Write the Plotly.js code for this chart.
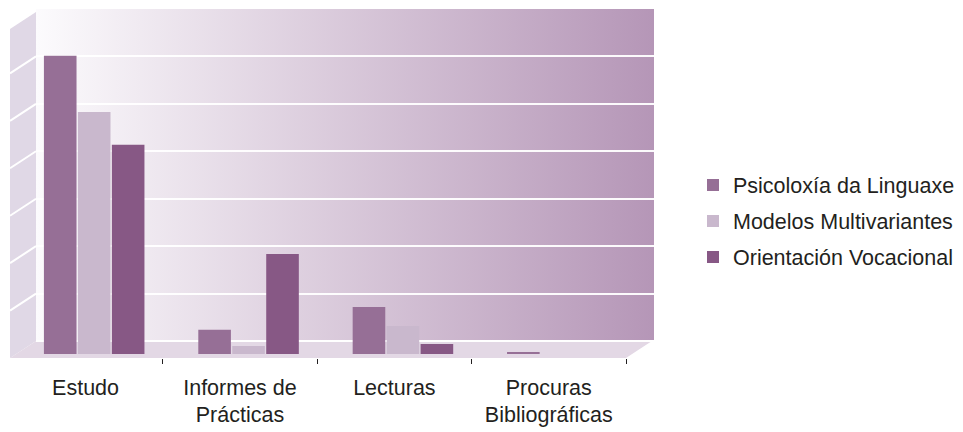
<!DOCTYPE html>
<html>
<head>
<meta charset="utf-8">
<script src="https://cdn.plot.ly/plotly-3.0.1.min.js"></script>
<style>html,body{margin:0;padding:0;background:#fff;}#chart{width:963px;height:432px;}</style>
</head>
<body>
<div id="chart"></div>
<script>
// ---- data ----
const categories = ['Estudo', 'Informes de<br>Prácticas', 'Lecturas', 'Procuras<br>Bibliográficas'];
const seriesNames = ['Psicoloxía da Linguaxe', 'Modelos Multivariantes', 'Orientación Vocacional'];
const psicoloxia = [62.9, 5.1, 9.9, 0.4];
const modelos = [51.0, 1.7, 5.9, 0];
const orientacion = [44.1, 21.1, 2.1, 0];
const seriesColors = ['#966f96', '#c9b8cd', '#875885'];
const gridValues = [0, 10, 20, 30, 40, 50, 60, 70];

// ---- geometry helpers (pixel -> paper) ----
const W = 963, H = 432;
const px = x => x / W;
const py = y => 1 - y / H;

// back wall (pixels)
const wallL = 36, wallR = 654, wallTop = 9, wallBot = 341;
// depth shift of front plane
const dX = -26, dY = 17;
const backY = v => wallBot - (v / 70) * (wallBot - wallTop);

const FONT = 'Liberation Sans, Arial, sans-serif';
const TXT = '#231f20';

const traces = [];
// back wall subplot (drawn first, so its grid sits under the bars)
traces.push({type: 'scatter', x: [], y: [], xaxis: 'x', yaxis: 'y', showlegend: false, hoverinfo: 'skip'});
// label axis carrier
traces.push({type: 'scatter', x: categories, y: [null, null, null, null], xaxis: 'x2', yaxis: 'y3',
  showlegend: false, hoverinfo: 'skip', mode: 'markers'});
const vals = [psicoloxia, modelos, orientacion];
vals.forEach((v, i) => traces.push({
  type: 'bar', x: categories, y: v, name: seriesNames[i],
  xaxis: 'x3', yaxis: 'y3',
  marker: {color: seriesColors[i], line: {width: 0}},
  legendgroup: 'g' + i, hoverinfo: 'x+y+name'
}));

// gradient image for back wall
const svg = '<svg xmlns="http://www.w3.org/2000/svg" width="618" height="332" preserveAspectRatio="none">' +
  '<defs><linearGradient id="g" x1="0" y1="0" x2="1" y2="0">' +
  '<stop offset="0" stop-color="#fcfbfd"/><stop offset="1" stop-color="#b596b7"/></linearGradient></defs>' +
  '<rect width="618" height="332" fill="url(#g)"/></svg>';
const imgSrc = 'data:image/svg+xml;base64,' + btoa(svg);

const shapes = [];
// left side wall
shapes.push({type: 'path', xref: 'paper', yref: 'paper', layer: 'below',
  path: `M ${px(wallL + dX)} ${py(wallTop + 3 + dY)} L ${px(wallL)} ${py(wallTop + 3)} L ${px(wallL)} ${py(wallBot)} L ${px(wallL + dX)} ${py(wallBot + dY)} Z`,
  fillcolor: '#e0d8e6', line: {width: 0}});
// slanted grid lines on side wall
gridValues.forEach(v => {
  if (v === 0 || v === 70) return;
  shapes.push({type: 'line', xref: 'paper', yref: 'paper', layer: 'below',
    x0: px(wallL + dX), y0: py(backY(v) + dY), x1: px(wallL), y1: py(backY(v)),
    line: {color: '#ffffff', width: 2}});
});
// floor
shapes.push({type: 'path', xref: 'paper', yref: 'paper', layer: 'below',
  path: `M ${px(wallL)} ${py(wallBot)} L ${px(wallR - 2)} ${py(wallBot)} L ${px(wallR - 2 + dX)} ${py(wallBot + dY)} L ${px(wallL + dX)} ${py(wallBot + dY)} Z`,
  fillcolor: '#e3d8e5', line: {width: 0}});

const layout = {
  width: W, height: H,
  margin: {l: 0, r: 0, t: 0, b: 0},
  paper_bgcolor: '#ffffff', plot_bgcolor: 'rgba(0,0,0,0)',
  font: {family: FONT, color: TXT, size: 21.5},
  showlegend: true,
  barmode: 'group', bargap: 0.34, bargroupgap: 0.04,
  // back wall axes
  xaxis: {domain: [px(wallL), px(wallR)], range: [0, 1], anchor: 'y', showgrid: false, zeroline: false,
    showticklabels: false, ticks: '', showline: false, fixedrange: true},
  yaxis: {domain: [py(wallBot), py(wallTop)], range: [0, 70], anchor: 'x', dtick: 10, tick0: 0,
    showgrid: true, gridcolor: 'rgba(255,255,255,0.95)', gridwidth: 2, zeroline: true, zerolinecolor: '#ffffff', zerolinewidth: 2,
    showticklabels: false, ticks: '', showline: false, fixedrange: true},
  // category label axis (front edge)
  xaxis2: {domain: [px(wallL + dX - 1.5), px(wallR - 2 + dX)], type: 'category', range: [-0.499, 3.5],
    anchor: 'free', position: py(wallBot + dY), tickson: 'boundaries', ticks: 'outside', ticklen: 5,
    tickcolor: TXT, tickwidth: 1, showline: false, showgrid: false, zeroline: false, ticklabelstandoff: 14,
    tickfont: {family: FONT, size: 21.5, color: TXT}, fixedrange: true},
  // bar axes (shifted into depth)
  xaxis3: {domain: [px(wallL + dX - 1.5 + 8.5), px(wallR - 2 + dX + 8.5)], type: 'category', range: [-0.5, 3.5],
    anchor: 'y3', visible: false, fixedrange: true},
  yaxis3: {domain: [py(354), py(354 - (wallBot - wallTop))], range: [0, 70], anchor: 'x3', visible: false, fixedrange: true},
  legend: {x: px(693), xanchor: 'left', y: py(221), yanchor: 'middle', bgcolor: 'rgba(0,0,0,0)',
    font: {family: FONT, size: 21.5, color: TXT}, tracegroupgap: 5, itemclick: false, itemdoubleclick: false},
  images: [{source: imgSrc, xref: 'paper', yref: 'paper', x: px(wallL), y: py(wallTop),
    sizex: px(wallR) - px(wallL), sizey: (wallBot - wallTop) / H, sizing: 'stretch', layer: 'below',
    xanchor: 'left', yanchor: 'top'}],
  shapes: shapes
};

Plotly.newPlot('chart', traces, layout, {displayModeBar: false, staticPlot: true});
</script>
</body>
</html>
